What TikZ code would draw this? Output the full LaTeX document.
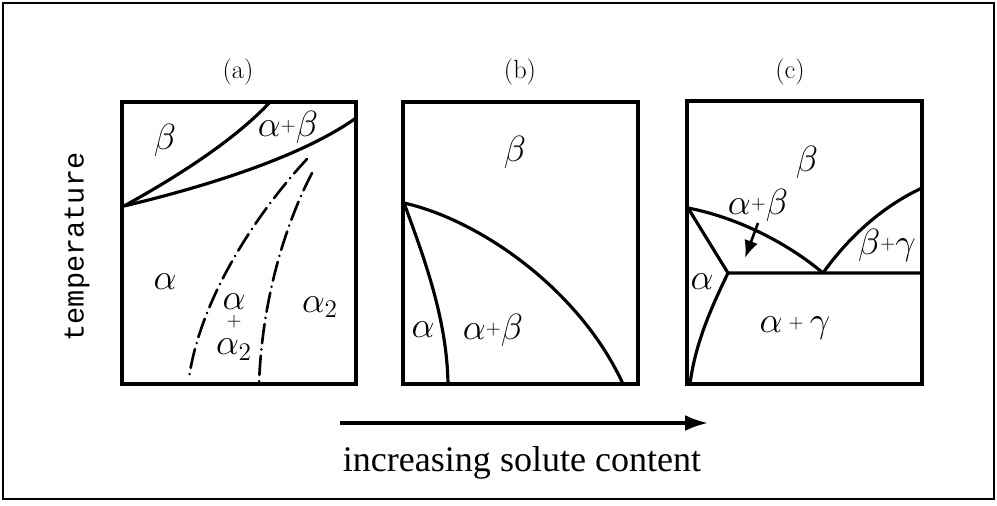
\documentclass[tikz,border=0pt]{standalone}
\usepackage{fontspec}
\usetikzlibrary{arrows.meta}
\newfontfamily\monofam{Liberation Mono}
\newfontfamily\serffam{Liberation Serif}
\newcommand\smplus{\mathord{\vcenter{\hbox{$\scriptscriptstyle+$}}}}
\newcommand\stackfont{\fontsize{21}{12.5}\selectfont\lineskiplimit=-50pt\relax}
\begin{document}
\begin{tikzpicture}[x=0.02cm,y=-0.02cm,
  panelbox/.style={line width=2pt},
  phase/.style={line width=1.8pt},
  dashdot/.style={line width=1.5pt, dash pattern=on 11pt off 3.5pt on 0.1pt off 3.5pt, line cap=round},
  lab/.style={font=\fontsize{21}{24}\selectfont, inner sep=0pt},
  ttl/.style={font=\fontsize{15}{18}\selectfont, inner sep=0pt}]
\useasboundingbox (0,0) rectangle (997,505);
\draw[line width=1.4pt] (3,3) rectangle (994,499);

% titles
\node[ttl] (ta) at (238,72) {(a)};
\node[ttl] (tb) at (520,72) {(b)};
\node[ttl] (tc) at (790,72) {(c)};

% panel (a)
\draw[panelbox] (122,102) rectangle (356,384);
\coordinate (a1) at (124,206);
\draw[phase] (a1) .. controls (175,178) and (235,140) .. (270,102);
\draw[phase] (a1) .. controls (200,188) and (300,158) .. (356,118);
\draw[dashdot] (307,159) .. controls (255,215) and (200,300) .. (189,378);
\draw[dashdot] (312,173) .. controls (285,225) and (262,300) .. (259,384);
\node[lab] (la1) at (165,140) {$\beta$};
\node[lab] (la2) at (288,127) {$\alpha\smplus\beta$};
\node[lab] (la3) at (165,282) {$\alpha$};
\node[font=\stackfont, inner sep=0pt, align=center] (la4) at (234,327) {$\alpha$\\$\smplus$\\[1pt]$\alpha_2$};
\node[lab] (la7) at (320,307) {$\alpha_2$};

% panel (b)
\draw[panelbox] (403,102) rectangle (638,384);
\coordinate (b1) at (404,203);
\draw[phase] (b1) .. controls (480,220) and (580,290) .. (623,384);
\draw[phase] (b1) .. controls (425,260) and (447,320) .. (448,384);
\node[lab] (lb1) at (515,152) {$\beta$};
\node[lab] (lb2) at (423,330) {$\alpha$};
\node[lab] (lb3) at (493,330) {$\alpha\smplus\beta$};

% panel (c)
\draw[panelbox] (687,101) rectangle (922,384);
\coordinate (c1) at (688,208);
\coordinate (c2) at (728,273);
\coordinate (c3) at (823,273);
\coordinate (c4) at (922,273);
\draw[phase] (c1) -- (c2) -- (c4);
\draw[phase] (c2) .. controls (710,310) and (695,345) .. (690,384);
\draw[phase] (c1) .. controls (740,218) and (790,245) .. (c3);
\draw[phase] (c3) .. controls (850,235) and (885,205) .. (922,188);
\coordinate (ar1) at (758,223);
\coordinate (ar2) at (745,258);
\draw[line width=1.5pt, -{Latex[length=10pt,width=8pt]}] (ar1) -- (ar2);
\node[lab] (lc1) at (807,162) {$\beta$};
\node[lab] (lc2) at (758,205) {$\alpha\smplus\beta$};
\node[lab] (lc3) at (887,245) {$\beta\smplus\gamma$};
\node[lab] (lc4) at (702,282) {$\alpha$};
\node[lab] (lc5) at (795,328) {$\alpha\,\smplus\,\gamma$};

% axis labels
\coordinate (x0) at (340,423);
\coordinate (x1) at (708,423);
\draw[line width=1.8pt, -{Latex[length=13pt,width=9pt]}] (x0) -- (x1);
\node[font=\serffam\fontsize{20.5}{24}\selectfont, inner sep=0pt] (xl) at (522,463) {increasing solute content};
\node[font=\monofam\fontsize{16.3}{19}\selectfont, inner sep=0pt, rotate=90] (yl) at (77,247) {temperature};
\end{tikzpicture}
\end{document}
